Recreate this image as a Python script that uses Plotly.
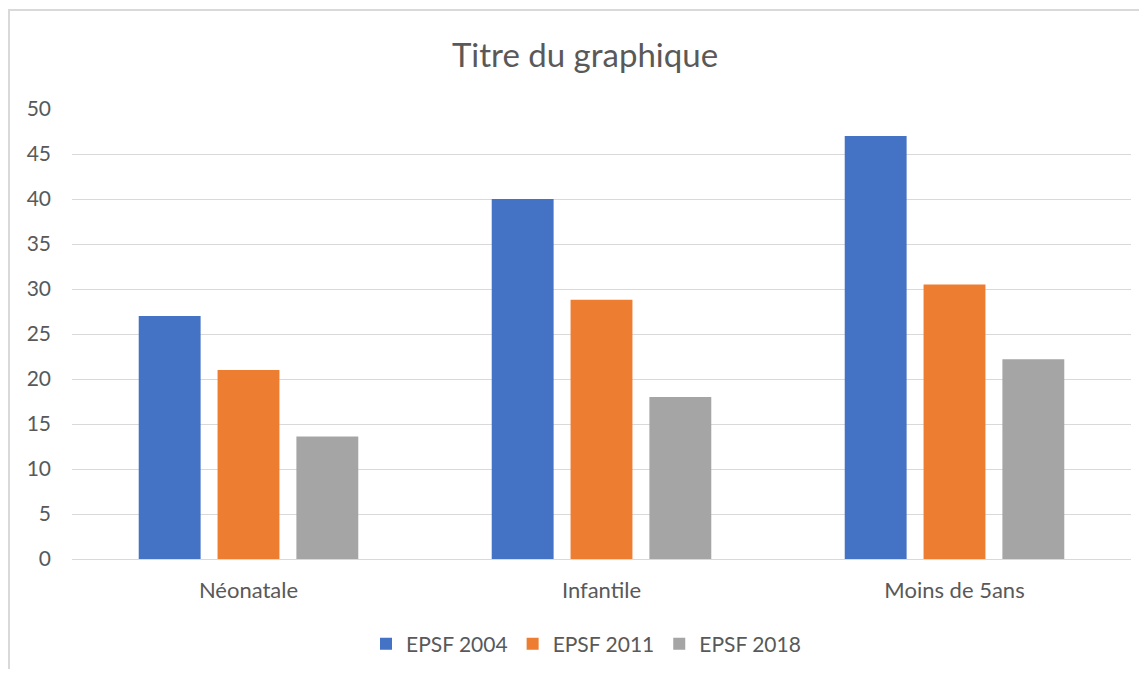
import plotly.graph_objects as go

categories = ["Néonatale", "Infantile", "Moins de 5ans"]
series_names = ["EPSF 2004", "EPSF 2011", "EPSF 2018"]
epsf_2004 = [27.0, 40.0, 47.0]
epsf_2011 = [21.0, 28.8, 30.5]
epsf_2018 = [13.6, 18.0, 22.2]
colors = ["#4472C4", "#ED7D31", "#A5A5A5"]
y_ticks = [0, 5, 10, 15, 20, 25, 30, 35, 40, 45, 50]

# page body has an 8px margin; work in window pixels and convert
OFF = 8
W, H = 1147 - 2 * OFF, 677 - 2 * OFF
L, T = 72 - OFF, 109 - OFF
R = W - (1131 - OFF)
B = H - (559 - OFF)
pw = W - L - R
ph = H - T - B

font_family = "Lato, 'Open Sans', sans-serif"
txt = "#595959"

fig = go.Figure()
for name, vals, c in zip(series_names, [epsf_2004, epsf_2011, epsf_2018], colors):
    fig.add_trace(go.Bar(name=name, x=categories, y=vals, marker=dict(color=c, line=dict(width=0))))

def px_x(p):
    return (p - OFF - L) / pw

def px_y(p):
    return (H - B - (p - OFF)) / ph

fig.update_layout(
    width=W, height=H,
    margin=dict(l=L, r=R, t=T, b=B, autoexpand=False),
    paper_bgcolor="white", plot_bgcolor="white",
    barmode="group", bargap=0.33, bargroupgap=0.215,
    font=dict(family=font_family, color=txt, size=22),
    title=dict(text="Titre du graphique", x=px_x(585), xref="paper", xanchor="center",
               y=1 - (55 - OFF) / H, yanchor="middle",
               font=dict(size=33, color=txt, family=font_family)),
    xaxis=dict(showgrid=False, showline=True, linecolor="#D9D9D9", linewidth=1,
               ticks="", tickfont=dict(size=22, color=txt), ticklabelstandoff=12),
    yaxis=dict(range=[0, 50], tickvals=y_ticks, showgrid=True, gridcolor="#D9D9D9",
               gridwidth=1, zeroline=False, showline=False, ticks="",
               tickfont=dict(size=21, color=txt), ticklabelstandoff=20),
    legend=dict(orientation="h", x=px_x(586), xanchor="center",
                y=px_y(644), yanchor="middle", font=dict(size=21, color=txt),
                itemwidth=30, traceorder="normal", bgcolor="rgba(0,0,0,0)"),
    showlegend=True,
    shapes=[
        dict(type="line", xref="paper", yref="paper", x0=px_x(9), x1=px_x(9),
             y0=px_y(10), y1=px_y(700), line=dict(color="#D9D9D9", width=2)),
        dict(type="line", xref="paper", yref="paper", x0=px_x(8), x1=px_x(1160),
             y0=px_y(10), y1=px_y(10), line=dict(color="#D9D9D9", width=2)),
    ],
)

fig.write_html("out.html")
